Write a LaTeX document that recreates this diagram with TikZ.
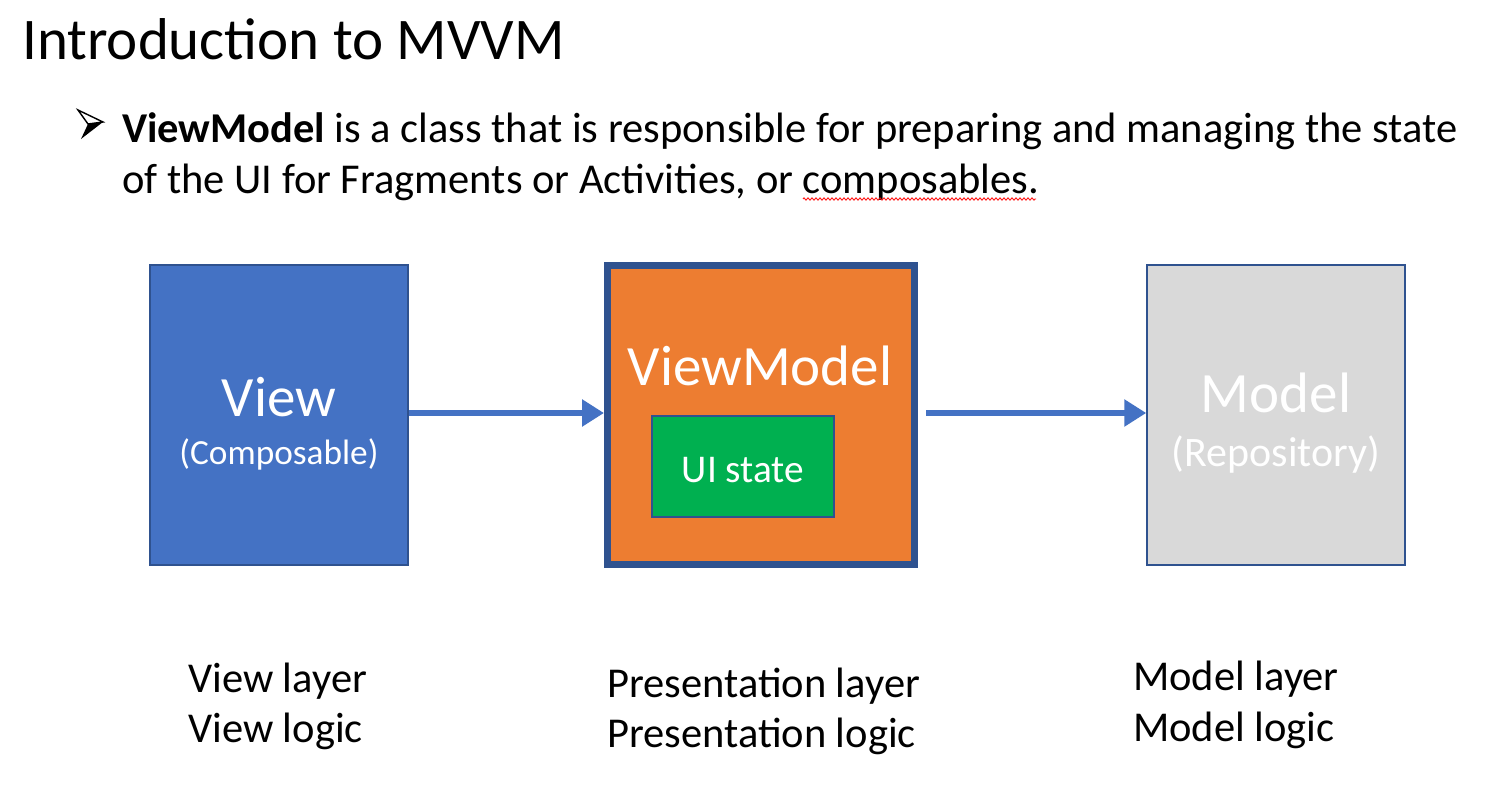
\documentclass[tikz,border=0pt]{standalone}
\usepackage{fontspec}
\setmainfont{Carlito}
\usetikzlibrary{arrows.meta,decorations.pathmorphing}
\definecolor{viewblue}{HTML}{4472C4}
\definecolor{edgeblue}{HTML}{2F528F}
\definecolor{vmorange}{HTML}{ED7D31}
\definecolor{uigreen}{HTML}{00B050}
\definecolor{mgray}{HTML}{D9D9D9}
\begin{document}
\begin{tikzpicture}[x=1pt,y=-1pt,
  box/.style={draw=edgeblue,line width=1.5pt,inner sep=0pt},
  flow/.style={draw=viewblue,line width=6pt,-{Triangle[length=22pt,width=26pt]},shorten >=0pt},
  lbl/.style={anchor=base west,inner sep=0pt,font=\fontsize{42.5}{48}\selectfont},
  big/.style={font=\fontsize{57}{60}\selectfont}]
\useasboundingbox[fill=white] (0,0) rectangle (1507,785);
% title
\node[anchor=base west,inner sep=0pt,font=\fontsize{59}{62}\selectfont] (title) at (22,59) {Introduction to MVVM};
% bullet glyph
\coordinate (bA) at (78,110);
\coordinate (bT) at (103,122);
\coordinate (bN) at (88,124);
\coordinate (bB) at (81,139);
\draw[line width=1.4pt,fill=white,line join=miter] (bA) -- (bT) -- (bN) -- cycle;
\fill (bB) -- (bN) -- (bT) -- cycle;
\node[anchor=base west,inner sep=0pt,font=\fontsize{42.5}{48}\selectfont] (line1) at (122,142) {\textbf{ViewModel} is a class that is responsible for preparing and managing the state};
\node[anchor=base west,inner sep=0pt,font=\fontsize{42.5}{48}\selectfont] (line2) at (122,193) {of the UI for Fragments or Activities, or composables.};
\coordinate (w1) at (803,199);
\coordinate (w2) at (1036,199);
\draw[red,line width=0.8pt,decorate,decoration={zigzag,amplitude=1.2pt,segment length=4pt}] (w1) -- (w2);
% boxes
\node[box,fill=viewblue,minimum width=258pt,minimum height=300pt] (view) at (279,415) {};
\node[box,line width=7pt,fill=vmorange,minimum width=307pt,minimum height=299pt] (vm) at (761,415) {};
\node[box,fill=uigreen,minimum width=182pt,minimum height=101pt] (ui) at (743,466.5) {};
\node[box,fill=mgray,minimum width=258pt,minimum height=300pt] (model) at (1276,415) {};
% texts in boxes
\node[big,text=white,anchor=base,inner sep=0pt] (tview) at (279,416) {View};
\node[font=\fontsize{35.3}{40}\selectfont,text=white,anchor=base,inner sep=0pt] (tcomp) at (279,464) {(Composable)};
\node[big,text=white,anchor=base,inner sep=0pt] (tvm) at (760,385) {ViewModel};
\node[font=\fontsize{39.3}{42}\selectfont,text=white,anchor=base,inner sep=0pt] (tui) at (743,482) {UI state};
\node[big,text=white,anchor=base,inner sep=0pt] (tmodel) at (1276,412) {Model};
\node[font=\fontsize{42}{46}\selectfont,text=white,anchor=base,inner sep=0pt] (trepo) at (1276,466) {(Repository)};
% arrows
\coordinate (a2s) at (926,413);
\draw[flow] (view.east |- 0,413) -- (vm.west |- 0,413);
\draw[flow] (a2s) -- (model.west |- 0,413);
% bottom labels
\node[lbl] (l1a) at (188,692) {View layer};
\node[lbl] (l1b) at (188,742) {View logic};
\node[lbl] (l2a) at (607,697) {Presentation layer};
\node[lbl] (l2b) at (607,747) {Presentation logic};
\node[lbl] (l3a) at (1133,690) {Model layer};
\node[lbl] (l3b) at (1133,741) {Model logic};
\end{tikzpicture}
\end{document}
